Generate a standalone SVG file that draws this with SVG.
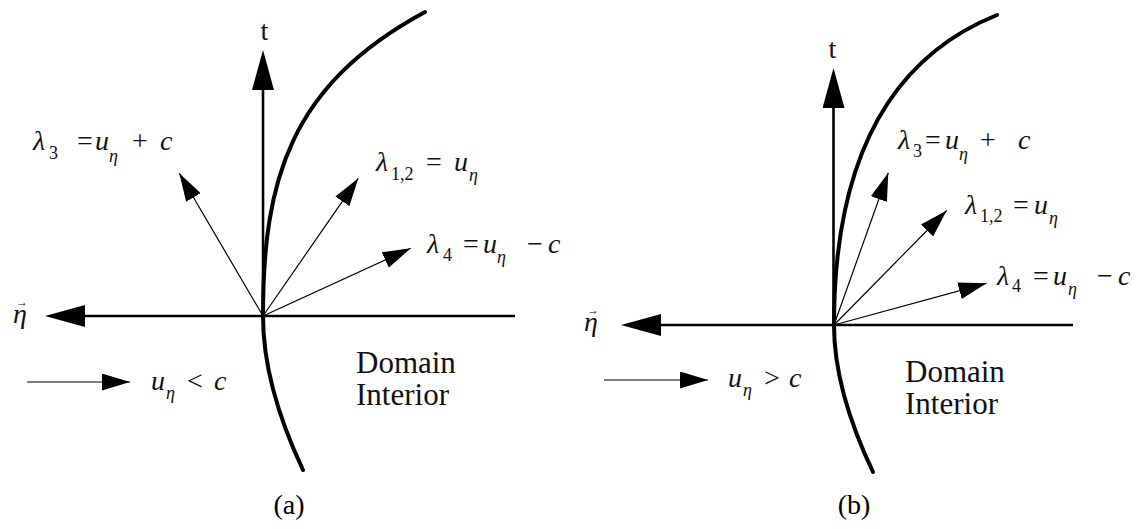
<svg xmlns="http://www.w3.org/2000/svg" width="1142" height="529" viewBox="0 0 1142 529">
<style>
.axis{stroke:#000;stroke-width:2.6;fill:none}
.thin{stroke:#000;stroke-width:1.2;fill:none}
.curve{stroke:#000;stroke-width:4;fill:none;stroke-linecap:round}
.m{font-size:28px;fill:#111}
.i{font-style:italic}
.s{font-size:18px}
.vec{font-size:12px;font-style:normal}
.lab{font-size:31px;fill:#111}
.cap{font-size:28px;fill:#000;text-anchor:middle}
</style>
<defs>
<marker id="big" markerUnits="userSpaceOnUse" viewBox="0 0 40 22" markerWidth="40" markerHeight="22" refX="30" refY="11" orient="auto"><path d="M0,0 L40,11 L0,22 Z" fill="#000"/></marker>
<marker id="small" markerUnits="userSpaceOnUse" viewBox="0 0 28 17" markerWidth="28" markerHeight="17" refX="28" refY="8.5" orient="auto"><path d="M0,0 L28,8.5 L0,17 Z" fill="#000"/></marker>
</defs>
<rect width="1142" height="529" fill="#fff"/>

<g id="connectors">
<line class="axis" x1="263" y1="316" x2="263" y2="60" marker-end="url(#big)"/>
<line class="axis" x1="515" y1="316" x2="55" y2="316" marker-end="url(#big)"/>
<path class="curve" d="M303,470 Q263,385 263,316 C263,180 290,85 425,12"/>
<line class="thin" x1="263" y1="316" x2="179.3" y2="173.3" marker-end="url(#small)"/>
<line class="thin" x1="263" y1="316" x2="358.3" y2="178.3" marker-end="url(#small)"/>
<line class="thin" x1="263" y1="316" x2="410.7" y2="248.3" marker-end="url(#small)"/>
<line class="thin" x1="27" y1="382" x2="130" y2="382" marker-end="url(#small)"/>
<line class="axis" x1="833.5" y1="325" x2="833.5" y2="78" marker-end="url(#big)"/>
<line class="axis" x1="1073" y1="325" x2="631" y2="325" marker-end="url(#big)"/>
<path class="curve" d="M873,472 Q834,390 834,325 C834,200 865,68 997,15"/>
<line class="thin" x1="834" y1="325" x2="888.3" y2="172.7" marker-end="url(#small)"/>
<line class="thin" x1="834" y1="325" x2="946.7" y2="210.5" marker-end="url(#small)"/>
<line class="thin" x1="834" y1="325" x2="986.5" y2="283.3" marker-end="url(#small)"/>
<line class="thin" x1="604" y1="380" x2="708" y2="380" marker-end="url(#small)"/>
</g>

<g id="panel-a-labels" font-family="Liberation Serif, DejaVu Serif, Times New Roman, serif">
<text class="m" x="264.5" y="40" text-anchor="middle">t</text>
<text class="m i"><tspan x="13" y="323">η</tspan><tspan class="vec" x="16" y="306">→</tspan></text>
<text class="m"><tspan class="i" x="33" y="150">λ</tspan><tspan class="s" x="49" y="159">3</tspan><tspan x="77" y="150">=</tspan><tspan class="i" x="95" y="150">u</tspan><tspan class="i s" x="109" y="162">η</tspan><tspan x="132" y="150">+</tspan><tspan class="i" x="160" y="150">c</tspan></text>
<text class="m"><tspan class="i" x="376" y="171">λ</tspan><tspan class="s" x="391" y="180">1,2</tspan><tspan x="426" y="171">=</tspan><tspan class="i" x="454" y="171">u</tspan><tspan class="i s" x="469" y="181">η</tspan></text>
<text class="m"><tspan class="i" x="427" y="253">λ</tspan><tspan class="s" x="443" y="261">4</tspan><tspan x="463" y="253">=</tspan><tspan class="i" x="483" y="253">u</tspan><tspan class="i s" x="497" y="263">η</tspan><tspan x="527" y="253">−</tspan><tspan class="i" x="548" y="253">c</tspan></text>
<text class="m"><tspan class="i" x="151" y="390">u</tspan><tspan class="i s" x="166" y="399">η</tspan><tspan x="187" y="390">&lt;</tspan><tspan class="i" x="214" y="390">c</tspan></text>
<text class="lab"><tspan x="356" y="373">Domain</tspan><tspan x="356" y="405">Interior</tspan></text>
<text class="cap" x="289" y="514">(a)</text>
</g>

<g id="panel-b-labels" font-family="Liberation Serif, DejaVu Serif, Times New Roman, serif">
<text class="m" x="832.5" y="58" text-anchor="middle">t</text>
<text class="m i"><tspan x="584" y="331">η</tspan><tspan class="vec" x="587" y="314">→</tspan></text>
<text class="m"><tspan class="i" x="898" y="149">λ</tspan><tspan class="s" x="913" y="157">3</tspan><tspan x="925" y="149">=</tspan><tspan class="i" x="945" y="149">u</tspan><tspan class="i s" x="959" y="160">η</tspan><tspan x="980" y="149">+</tspan><tspan class="i" x="1018" y="149">c</tspan></text>
<text class="m"><tspan class="i" x="965" y="214">λ</tspan><tspan class="s" x="980" y="222">1,2</tspan><tspan x="1013" y="214">=</tspan><tspan class="i" x="1034" y="214">u</tspan><tspan class="i s" x="1049" y="224">η</tspan></text>
<text class="m"><tspan class="i" x="997" y="285">λ</tspan><tspan class="s" x="1012" y="292">4</tspan><tspan x="1033" y="285">=</tspan><tspan class="i" x="1053" y="285">u</tspan><tspan class="i s" x="1068" y="295">η</tspan><tspan x="1097" y="285">−</tspan><tspan class="i" x="1118" y="285">c</tspan></text>
<text class="m"><tspan class="i" x="728" y="387">u</tspan><tspan class="i s" x="743" y="396">η</tspan><tspan x="764" y="387">&gt;</tspan><tspan class="i" x="789" y="387">c</tspan></text>
<text class="lab"><tspan x="905" y="382">Domain</tspan><tspan x="905" y="414">Interior</tspan></text>
<text class="cap" x="854" y="514">(b)</text>
</g>
</svg>
